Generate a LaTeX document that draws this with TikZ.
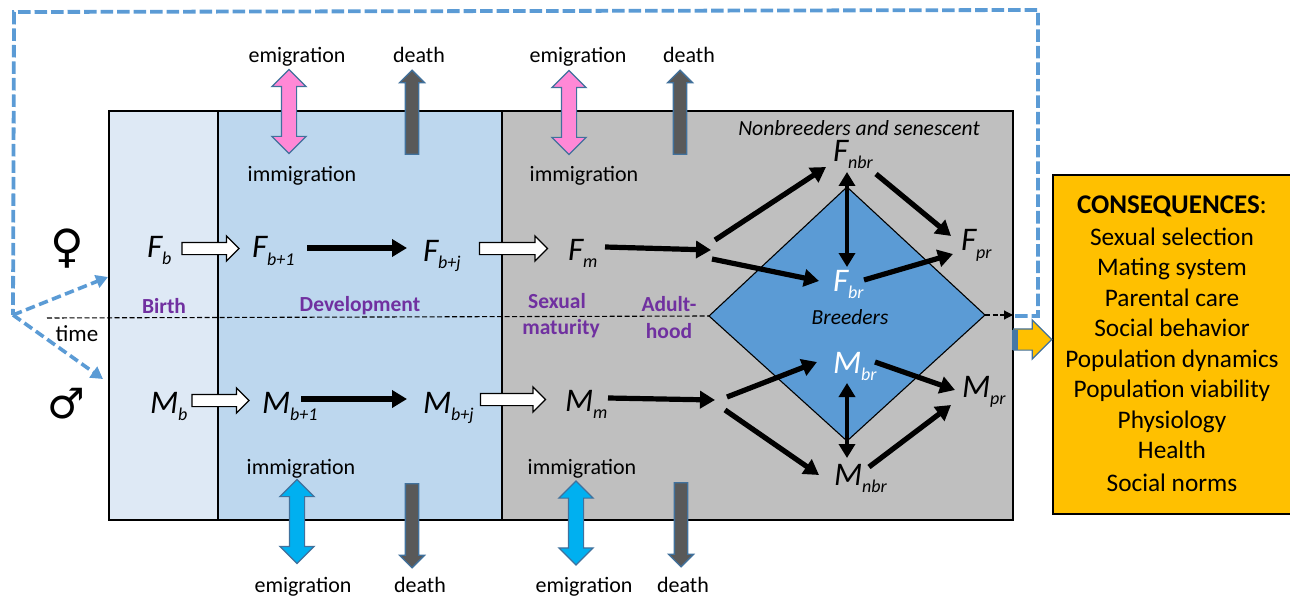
\documentclass[tikz,border=0pt]{standalone}
\usepackage{fontspec}
\setmainfont{Carlito}
\newfontfamily\symfont{DejaVu Sans}
\usetikzlibrary{arrows.meta,shapes.arrows,calc}
\definecolor{birthc}{HTML}{DEE9F5}
\definecolor{devc}{HTML}{BDD7EE}
\definecolor{greyc}{HTML}{BFBFBF}
\definecolor{diamc}{HTML}{5B9BD5}
\definecolor{edgec}{HTML}{41719C}
\definecolor{purp}{HTML}{7030A0}
\definecolor{pinkc}{HTML}{FF88D6}
\definecolor{cyanc}{HTML}{00B0F0}
\definecolor{darkc}{HTML}{595959}
\definecolor{orangec}{HTML}{FFC000}
\newcommand{\fs}[1]{\fontsize{#1}{#1}\selectfont}
\newcommand{\lab}[2]{{\fs{33}\itshape #1}\raisebox{-7pt}{\fs{18}\itshape #2}}
\newcommand{\shaft}[1]{\rule{0pt}{#1}}
\tikzset{
  zone/.style={draw=black,line width=1.2pt,inner sep=0pt,outer sep=0pt,anchor=north west},
  var/.style={inner sep=0pt,outer sep=0pt,anchor=base west},
  txt/.style={inner sep=0pt,outer sep=0pt,font=\fs{22},text height=15pt,text depth=0pt},
  stage/.style={inner sep=0pt,outer sep=0pt,font=\fs{21.5}\bfseries,text=purp,text height=17pt,text depth=0pt},
  conseq/.style={inner sep=0pt,outer sep=0pt,font=\fs{25.3},text height=17pt,text depth=0pt},
  thick arrow/.style={line width=5.2pt,-{Triangle[length=15pt,width=17pt]}},
  both arrow/.style={line width=3.8pt,{Triangle[length=14pt,width=16pt]}-{Triangle[length=14pt,width=16pt]}},
  hollow/.style={single arrow,draw=black,fill=white,line width=1.2pt,inner sep=0pt,outer sep=0pt,
     minimum height=#1,single arrow head extend=6.5pt,single arrow tip angle=90},
  exchange/.style={double arrow,draw=edgec,fill=#1,line width=1.2pt,inner sep=0pt,outer sep=0pt,rotate=90,
     minimum height=84pt,double arrow head extend=9.5pt,double arrow tip angle=90},
  deatharrow/.style={single arrow,draw=edgec,fill=darkc,line width=1.3pt,inner sep=0pt,outer sep=0pt,
     minimum height=84pt,single arrow head extend=6pt,single arrow tip angle=90},
  loopline/.style={draw=diamc,line width=3.8pt,dash pattern=on 12.5pt off 4pt},
  sexline/.style={draw=diamc,line width=3.6pt,dash pattern=on 9.5pt off 4.5pt},
  timeline/.style={draw=black,line width=1.1pt,dash pattern=on 5pt off 2.5pt}
}
\begin{document}
\begin{tikzpicture}[x=1pt,y=-1pt]
\useasboundingbox (0,0) rectangle (1290,596);
% zones
\node[zone,fill=greyc,minimum width=511pt,minimum height=409pt] (grey) at (502,111) {};
\node[zone,fill=birthc,minimum width=109pt,minimum height=409pt] (birth) at (109,111) {};
\node[zone,fill=devc,minimum width=284pt,minimum height=409pt] (dev) at (218,111) {};
\coordinate (dL) at (709,316); \coordinate (dT) at (847,187);
\coordinate (dR) at (985,315); \coordinate (dB) at (847,441);
\draw[fill=diamc,draw=black,line width=1.1pt,line join=miter] (dL) -- (dT) -- (dR) -- (dB) -- cycle;
% time line
\coordinate (tstart) at (47,318);
\coordinate (tend) at (1013,315);
\draw[timeline] (tstart) -- (dL);
\draw[timeline,-{Triangle[length=9pt,width=9pt]}] (dR) -- (tend);
% feedback loop
\coordinate (l0) at (1015,316); \coordinate (l1) at (1038,316); \coordinate (l2) at (1038,10);
\coordinate (l3) at (14,12); \coordinate (l4) at (13,315);
\coordinate (fem) at (108,277); \coordinate (mal) at (103,379);
\draw[loopline] (l0) -- (l1) -- (l2) -- (l3) -- (l4);
\draw[sexline,-{Triangle[length=12pt,width=13pt]}] (l4) -- (fem);
\draw[sexline,-{Triangle[length=12pt,width=13pt]}] (l4) -- (mal);
% consequences box
\node[draw=black,line width=1.2pt,fill=orangec,inner sep=0pt,outer sep=0pt,anchor=north west,minimum width=240pt,minimum height=339pt] (cons) at (1053,175) {};
\node[conseq,font=\fs{27}] (c0) at (1172,205) {\textbf{CONSEQUENCES}:};
\node[conseq] (c1) at (1172,237) {Sexual selection};
\node[conseq] (c2) at (1172,267) {Mating system};
\node[conseq] (c3) at (1172,298) {Parental care};
\node[conseq] (c4) at (1172,328) {Social behavior};
\node[conseq] (c5) at (1172,359) {Population dynamics};
\node[conseq] (c6) at (1172,389) {Population viability};
\node[conseq] (c7) at (1172,420) {Physiology};
\node[conseq] (c8) at (1172,450) {Health};
\node[conseq] (c9) at (1172,483) {Social norms};
% orange output arrow
\node[single arrow,draw=edgec,fill=orangec,line width=1.2pt,inner sep=0pt,outer sep=0pt,minimum height=38pt,single arrow head extend=9pt,single arrow tip angle=90] (out) at (1027.5,339.5) {\shaft{20pt}};
\node[fill=edgec!85!diamc,inner sep=0pt,outer sep=0pt,minimum width=6pt,minimum height=20pt] (outstub) at (1015,339.5) {};
% exchange arrows
\node[exchange=pinkc] (ex1) at (289,111.5) {\shaft{14pt}};
\node[exchange=pinkc] (ex2) at (569,112.5) {\shaft{14pt}};
\node[exchange=cyanc] (ex3) at (297,521.5) {\shaft{14pt}};
\node[exchange=cyanc] (ex4) at (576,523) {\shaft{14pt}};
\node[deatharrow,rotate=90] (d1) at (412,115.5) {\shaft{12pt}};
\node[deatharrow,rotate=90] (d2) at (680,115.5) {\shaft{12pt}};
\node[deatharrow,rotate=-90] (d3) at (412,522.5) {\shaft{12pt}};
\node[deatharrow,rotate=-90] (d4) at (681,521.5) {\shaft{12pt}};
% flow labels
\node[txt] (t1) at (297,55) {emigration};
\node[txt] (t2) at (419,55) {death};
\node[txt] (t3) at (302,174) {immigration};
\node[txt] (t4) at (578,55) {emigration};
\node[txt] (t5) at (689,55) {death};
\node[txt] (t6) at (584,174) {immigration};
\node[txt] (t7) at (301,467) {immigration};
\node[txt] (t8) at (303,585) {emigration};
\node[txt] (t9) at (420,585) {death};
\node[txt] (t10) at (582,467) {immigration};
\node[txt] (t11) at (584,585) {emigration};
\node[txt] (t12) at (683,585) {death};
\node[txt,font=\fs{23}] (t13) at (77,334) {time};
% stages
\node[stage] (s1) at (164,305) {Birth};
\node[stage] (s2) at (360,303) {Development};
\node[stage] (s3) at (557,300) {Sexual};
\node[stage] (s3b) at (561,326) {maturity};
\node[stage] (s4) at (669,303) {Adult-};
\node[stage] (s4b) at (669,330) {hood};
\node[inner sep=0pt,font=\fs{21.6}\itshape,text height=16pt,text depth=0pt] (nb) at (859,128) {Nonbreeders and senescent};
\node[inner sep=0pt,font=\fs{21.5}\itshape,text height=15pt,text depth=0pt] (br) at (850,317) {Breeders};
% symbols
\node[inner sep=0pt,font=\symfont\fs{46}\bfseries] (venus) at (67,249) {♀};
\node[inner sep=0pt,font=\symfont\fs{42}\bfseries] (mars) at (66,404) {♂};
% variables
\node[var] (Fb) at (147,257) {\lab{F}{b}};
\node[var] (Fb1) at (252,258) {\lab{F}{b+1}};
\node[var] (Fbj) at (423,261) {\lab{F}{b+j}};
\node[var] (Fm) at (568,260) {\lab{F}{m}};
\node[var] (Mb) at (150,413) {\lab{M}{b}};
\node[var] (Mb1) at (262,413) {\lab{M}{b+1}};
\node[var] (Mbj) at (423,413) {\lab{M}{b+j}};
\node[var] (Mm) at (565,411) {\lab{M}{m}};
\node[var] (Fnbr) at (833,162) {\lab{F}{nbr}};
\node[var] (Fpr) at (961,251) {\lab{F}{pr}};
\node[var,text=white] (Fbr) at (833,291) {\lab{F}{br}};
\node[var,text=white] (Mbr) at (833,373) {\lab{M}{br}};
\node[var] (Mpr) at (962,397) {\lab{M}{pr}};
\node[var] (Mnbr) at (834,485) {\lab{M}{nbr}};
% hollow arrows
\node[hollow=57pt] (h1) at (207.5,248.5) {\shaft{11pt}};
\node[hollow=68pt] (h2) at (510.5,248.5) {\shaft{11pt}};
\node[hollow=57pt] (h3) at (217.5,400.5) {\shaft{11pt}};
\node[hollow=65pt] (h4) at (510,399.5) {\shaft{11pt}};
% junctions
\coordinate (FJ) at (711,250); \coordinate (FJa) at (715,240); \coordinate (FJb) at (712,259);
\coordinate (MJ) at (715,400); \coordinate (MJa) at (727,397); \coordinate (MJb) at (725,410);
% connectors
\draw[thick arrow] ([shift={(55,-10)}]Fb1.base west) -- ([shift={(-16,-13)}]Fbj.base west);
\draw[thick arrow] ([shift={(39,-14)}]Mb1.base west) -- ([shift={(-16,-14)}]Mbj.base west);
\draw[thick arrow] ([shift={(37,-13)}]Fm.base west) -- (FJ);
\draw[thick arrow] ([shift={(43,-13)}]Mm.base west) -- (MJ);
\draw[thick arrow] (FJa) -- ([shift={(-7,5)}]Fnbr.base west);
\draw[thick arrow] (FJb) -- ([shift={(-14,-10)}]Fbr.base west);
\draw[both arrow] ([shift={(14,10)}]Fnbr.base west) -- ([shift={(14,-24)}]Fbr.base west);
\draw[thick arrow] ([shift={(43,12)}]Fnbr.base west) -- ([shift={(-10,-15)}]Fpr.base west);
\draw[thick arrow] ([shift={(31,-11)}]Fbr.base west) -- ([shift={(-8,3)}]Fpr.base west);
\draw[thick arrow] (MJa) -- ([shift={(-16,-11)}]Mbr.base west);
\draw[thick arrow] (MJb) -- ([shift={(-15,-10)}]Mnbr.base west);
\draw[both arrow] ([shift={(14,10)}]Mbr.base west) -- ([shift={(13,-27)}]Mnbr.base west);
\draw[thick arrow] ([shift={(42,-11)}]Mbr.base west) -- ([shift={(-7,-7)}]Mpr.base west);
\draw[thick arrow] ([shift={(35,-18)}]Mnbr.base west) -- ([shift={(-11,8)}]Mpr.base west);
\end{tikzpicture}
\end{document}
